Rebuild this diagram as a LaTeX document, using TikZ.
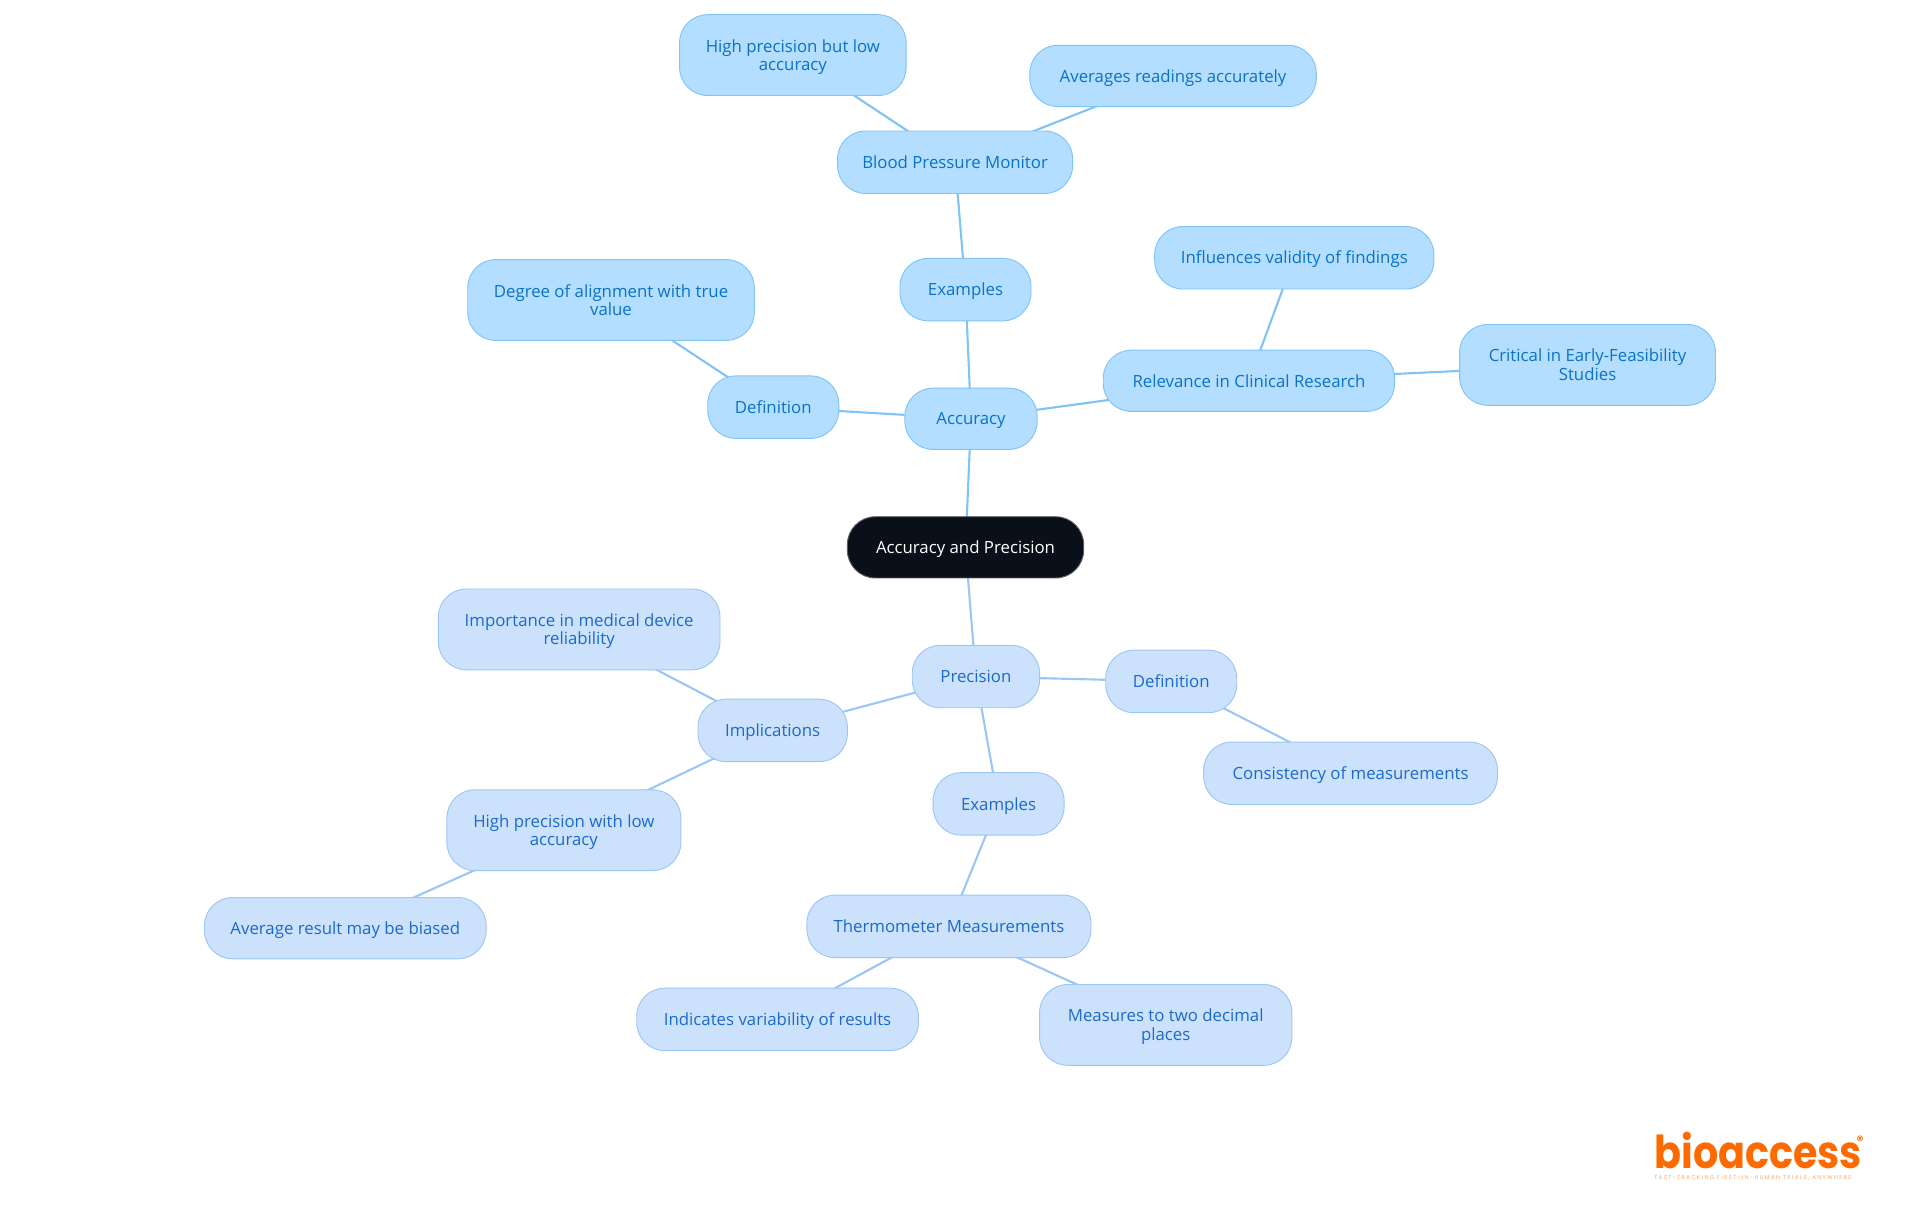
\documentclass[tikz,border=0pt]{standalone}
\usepackage{fontspec}
\setmainfont{Open Sans}
\newfontfamily\logofont[FakeStretch=0.875]{Poppins}
\newfontfamily\tagfont[LetterSpace=24]{Poppins}
\newfontfamily\regfont{Poppins}
\usetikzlibrary{backgrounds}
\definecolor{accF}{HTML}{B3DEFF}
\definecolor{accD}{HTML}{80C4F5}
\definecolor{accT}{HTML}{0B72C4}
\definecolor{preF}{HTML}{CCE2FC}
\definecolor{preD}{HTML}{9CC6F3}
\definecolor{preT}{HTML}{1B6AC9}
\definecolor{rootF}{HTML}{0A101A}
\definecolor{logoC}{HTML}{FF6A00}
\tikzset{
  mapnode/.style={rectangle,rounded corners=21pt,inner sep=0pt,line width=0.7pt,align=center,
    font=\fontsize{12.6pt}{13.8pt}\selectfont},
  accbox/.style={mapnode,fill=accF,draw=accD,text=accT},
  prebox/.style={mapnode,fill=preF,draw=preD,text=preT},
  rootbox/.style={mapnode,fill=rootF,draw=gray!70!rootF,text=white},
  accline/.style={draw=accD,line width=1.6pt},
  preline/.style={draw=preD,line width=1.6pt},
}
\newcommand\mm[7]{\node[#1,minimum width={(#5-#3)*0.91837pt},minimum height={(#6-#4)*0.91837pt}] (#2) at ({(#3+#5)/2},{(#4+#6)/2}) {\raisebox{-1.9pt}[\height][\depth]{\begin{tabular}{@{}c@{}}#7\end{tabular}}};}
\begin{document}
\begin{tikzpicture}[x=0.91837pt,y=-0.91837pt]
\useasboundingbox (0,0) rectangle (1568,992.2);
\mm{rootbox}{root}{692}{422}{885}{472}{Accuracy and Precision}
\mm{accbox}{acc}{739}{317}{847}{367}{Accuracy}
\mm{accbox}{accdef}{578}{307}{685}{358}{Definition}
\mm{accbox}{degree}{382}{212}{616}{278}{Degree of alignment with true\\value}
\mm{accbox}{accex}{735}{211}{842}{262}{Examples}
\mm{accbox}{bp}{684}{107}{876}{158}{Blood Pressure Monitor}
\mm{accbox}{hplow}{555}{12}{740}{78}{High precision but low\\accuracy}
\mm{accbox}{avg}{841}{37}{1075}{87}{Averages readings accurately}
\mm{accbox}{rel}{901}{286}{1139}{336}{Relevance in Clinical Research}
\mm{accbox}{infl}{943}{185}{1171}{236}{Influences validity of findings}
\mm{accbox}{crit}{1192}{265}{1401}{331}{Critical in Early-Feasibility\\Studies}
\mm{prebox}{prec}{745}{527}{849}{578}{Precision}
\mm{prebox}{predef}{903}{531}{1010}{582}{Definition}
\mm{prebox}{cons}{983}{606}{1223}{657}{Consistency of measurements}
\mm{prebox}{impl}{570}{571}{692}{622}{Implications}
\mm{prebox}{imp}{358}{481}{588}{547}{Importance in medical device\\reliability}
\mm{prebox}{hpla}{365}{645}{556}{711}{High precision with low\\accuracy}
\mm{prebox}{bias}{167}{733}{397}{783}{Average result may be biased}
\mm{prebox}{preex}{762}{631}{869}{682}{Examples}
\mm{prebox}{thermo}{659}{731}{891}{782}{Thermometer Measurements}
\mm{prebox}{indic}{520}{807}{750}{858}{Indicates variability of results}
\mm{prebox}{meas}{849}{804}{1055}{870}{Measures to two decimal\\places}
\begin{scope}[on background layer]
\draw[accline] (root.center)--(acc.center);
\draw[accline] (acc.center)--(accdef.center);
\draw[accline] (accdef.center)--(degree.center);
\draw[accline] (acc.center)--(accex.center);
\draw[accline] (accex.center)--(bp.center);
\draw[accline] (bp.center)--(hplow.center);
\draw[accline] (bp.center)--(avg.center);
\draw[accline] (acc.center)--(rel.center);
\draw[accline] (rel.center)--(infl.center);
\draw[accline] (rel.center)--(crit.center);
\draw[preline] (root.center)--(prec.center);
\draw[preline] (prec.center)--(predef.center);
\draw[preline] (predef.center)--(cons.center);
\draw[preline] (prec.center)--(impl.center);
\draw[preline] (impl.center)--(imp.center);
\draw[preline] (impl.center)--(hpla.center);
\draw[preline] (hpla.center)--(bias.center);
\draw[preline] (prec.center)--(preex.center);
\draw[preline] (preex.center)--(thermo.center);
\draw[preline] (thermo.center)--(indic.center);
\draw[preline] (thermo.center)--(meas.center);
\end{scope}
\node[anchor=base west,inner sep=0pt,text=logoC,font=\logofont\bfseries\fontsize{34pt}{34pt}\selectfont] (logo) at (1351,954) {bioaccess};
\node[anchor=center,inner sep=0pt,text=logoC,font=\regfont\bfseries\fontsize{10pt}{10pt}\selectfont] (reg) at (1519,932) {®};
\node[anchor=base west,inner sep=0pt,text=logoC!60,font=\tagfont\fontsize{4.2pt}{4.5pt}\selectfont] (tag) at (1351,963) {FAST-TRACKING FIRST-IN-HUMAN TRIALS, ANYWHERE};
\end{tikzpicture}
\end{document}
